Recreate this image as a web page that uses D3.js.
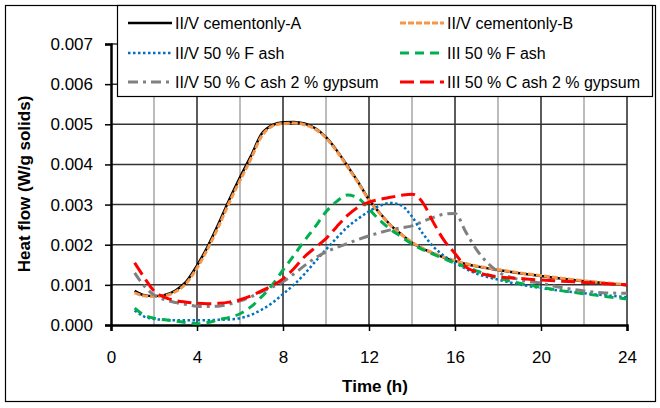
<!DOCTYPE html>
<html><head><meta charset="utf-8">
<script src="https://cdn.jsdelivr.net/npm/d3@7"></script>
<style>
html,body{margin:0;padding:0;background:#fff;}
svg{display:block;font-family:"Liberation Sans",Arial,sans-serif;}
</style></head>
<body><svg id="c" width="660" height="408"></svg>
<script>
const hours = [1.1,1.5,2,2.5,3,3.5,4,4.5,5,5.5,6,6.5,7,7.5,8,8.5,9,9.5,10,10.5,11,11.5,12,12.5,13,13.5,14,14.5,15,15.5,16,16.5,17,18,19,20,21,22,23,24];
const cementA = [0.00085,0.00075,0.00072,0.00075,0.00086,0.00108,0.00148,0.00196,0.00252,0.00312,0.00368,0.00420,0.00476,0.00498,0.00505,0.00506,0.00502,0.00490,0.00468,0.00435,0.00396,0.00356,0.00312,0.00279,0.00249,0.00226,0.00205,0.00190,0.00178,0.00168,0.00159,0.00152,0.00146,0.00137,0.00129,0.00122,0.00115,0.00109,0.00104,0.00099];
const cementB = [0.00080,0.00073,0.00071,0.00073,0.00083,0.00104,0.00142,0.00190,0.00245,0.00305,0.00360,0.00413,0.00470,0.00495,0.00502,0.00503,0.00499,0.00488,0.00466,0.00433,0.00394,0.00354,0.00311,0.00278,0.00248,0.00226,0.00206,0.00191,0.00179,0.00169,0.00160,0.00153,0.00147,0.00138,0.00130,0.00123,0.00116,0.00110,0.00105,0.00100];
const fAshIIV = [0.00036,0.00022,0.00015,0.00013,0.00012,0.00012,0.00012,0.00012,0.00013,0.00014,0.00017,0.00025,0.00038,0.00055,0.00077,0.00100,0.00127,0.00158,0.00188,0.00217,0.00244,0.00265,0.00283,0.00297,0.00304,0.00298,0.00270,0.00228,0.00195,0.00172,0.00155,0.00140,0.00128,0.00113,0.00101,0.00092,0.00085,0.00079,0.00074,0.00069];
const fAshIII = [0.00042,0.00026,0.00017,0.00013,0.00010,0.00006,0.00003,0.00006,0.00013,0.00019,0.00028,0.00045,0.00070,0.00100,0.00137,0.00173,0.00210,0.00245,0.00282,0.00308,0.00324,0.00316,0.00289,0.00261,0.00238,0.00220,0.00202,0.00188,0.00176,0.00165,0.00154,0.00145,0.00135,0.00117,0.00104,0.00094,0.00085,0.00078,0.00071,0.00065];
const cAshIIV = [0.00130,0.00100,0.00075,0.00063,0.00056,0.00051,0.00047,0.00046,0.00047,0.00052,0.00060,0.00070,0.00083,0.00094,0.00108,0.00127,0.00148,0.00167,0.00182,0.00193,0.00203,0.00213,0.00222,0.00230,0.00237,0.00242,0.00247,0.00258,0.00268,0.00276,0.00278,0.00232,0.00188,0.00133,0.00113,0.00104,0.00093,0.00085,0.00080,0.00079];
const cAshIII = [0.00155,0.00122,0.00085,0.00069,0.00061,0.00057,0.00054,0.00053,0.00054,0.00057,0.00063,0.00072,0.00085,0.00098,0.00115,0.00140,0.00170,0.00193,0.00215,0.00245,0.00273,0.00294,0.00306,0.00313,0.00318,0.00323,0.00326,0.00305,0.00255,0.00210,0.00178,0.00145,0.00132,0.00120,0.00116,0.00112,0.00109,0.00106,0.00103,0.00100];
const seriesNames = ["II/V cementonly-A","II/V cementonly-B","II/V 50 % F ash","III 50 % F ash","II/V 50 % C ash 2 % gypsum","III 50 % C ash 2 % gypsum"];
const xTicks = [0,4,8,12,16,20,24];
const yTicks = [0,0.001,0.002,0.003,0.004,0.005,0.006,0.007];
const xTitle = "Time (h)";
const yTitle = "Heat flow (W/g solids)";

const styles = [
  {color:"#000000", dash:null, w:2.5},
  {color:"#F79646", dash:"6,2", w:3},
  {color:"#0070C0", dash:"2.5,2.5", w:2.5},
  {color:"#00B050", dash:"9,6", w:3},
  {color:"#808080", dash:"10,5,3,5", w:3},
  {color:"#FF0000", dash:"14,6", w:3}
];
const values = [cementA,cementB,fAshIIV,fAshIII,cAshIIV,cAshIII];

const svg = d3.select("#c");
const x = d3.scaleLinear().domain([0,24]).range([111,627]);
const y = d3.scaleLinear().domain([0,0.007]).range([325,44]);

// chart border
svg.append("rect").attr("x",5.5).attr("y",5.5).attr("width",650).attr("height",396)
  .attr("fill","#fff").attr("stroke","#000").attr("stroke-width",1.2);

// gridlines
const gridX = d3.range(2,25,2);
svg.append("g").selectAll("line").data(gridX).join("line")
  .attr("x1",d=>x(d)).attr("x2",d=>x(d)).attr("y1",y(0.007)).attr("y2",y(0))
  .attr("stroke",d=>d%4===0?"#262626":"#A6A6A6").attr("stroke-width",1.5);
svg.append("g").selectAll("line").data(yTicks.slice(1)).join("line")
  .attr("x1",x(0)).attr("x2",x(24)).attr("y1",d=>y(d)).attr("y2",d=>y(d))
  .attr("stroke","#333").attr("stroke-width",1.5);

// axes
const yAxis = svg.append("g").attr("transform",`translate(${x(0)},0)`)
  .call(d3.axisLeft(y).tickValues(yTicks).tickFormat(d3.format(".3f")).tickSize(6).tickPadding(12));
const xAxis = svg.append("g").attr("transform",`translate(0,${y(0)})`)
  .call(d3.axisBottom(x).tickValues(xTicks).tickFormat(d3.format("d")).tickSize(6).tickPadding(20));
[yAxis,xAxis].forEach(a=>{
  a.selectAll("text").attr("font-size",17).attr("fill","#000").attr("font-family","Liberation Sans, Arial, sans-serif");
  a.selectAll("line").attr("stroke","#000").attr("stroke-width",1.5);
});
yAxis.select(".domain").attr("stroke","#000").attr("stroke-width",2.5);
xAxis.select(".domain").attr("stroke","#000").attr("stroke-width",2.5);

// lines
const line = d3.line().curve(d3.curveMonotoneX);
values.forEach((vals,i)=>{
  const pts = hours.map((h,j)=>[x(h),y(vals[j])]);
  svg.append("path").attr("d",line(pts)).attr("fill","none")
    .attr("stroke",styles[i].color).attr("stroke-width",styles[i].w)
    .attr("stroke-dasharray",styles[i].dash);
});

// legend
const lg = svg.append("g");
lg.append("rect").attr("x",117.5).attr("y",5.5).attr("width",535).attr("height",91)
  .attr("fill","#fff").attr("stroke","#000").attr("stroke-width",1.2);
const legX = [128,400], legY = [23,53,82];
seriesNames.forEach((n,i)=>{
  const cx = legX[i%2], cy = legY[Math.floor(i/2)];
  lg.append("line").attr("x1",cx).attr("x2",cx+44).attr("y1",cy).attr("y2",cy)
    .attr("stroke",styles[i].color).attr("stroke-width",styles[i].w)
    .attr("stroke-dasharray",styles[i].dash);
  lg.append("text").attr("x",cx+47).attr("y",cy).attr("dy","0.35em")
    .attr("font-size",16).text(n);
});

// titles
svg.append("text").attr("x",375).attr("y",392).attr("text-anchor","middle")
  .attr("font-size",17).attr("font-weight","bold").text(xTitle);
svg.append("text").attr("transform","translate(30,184) rotate(-90)").attr("text-anchor","middle")
  .attr("font-size",17).attr("font-weight","bold").text(yTitle);
</script></body></html>
